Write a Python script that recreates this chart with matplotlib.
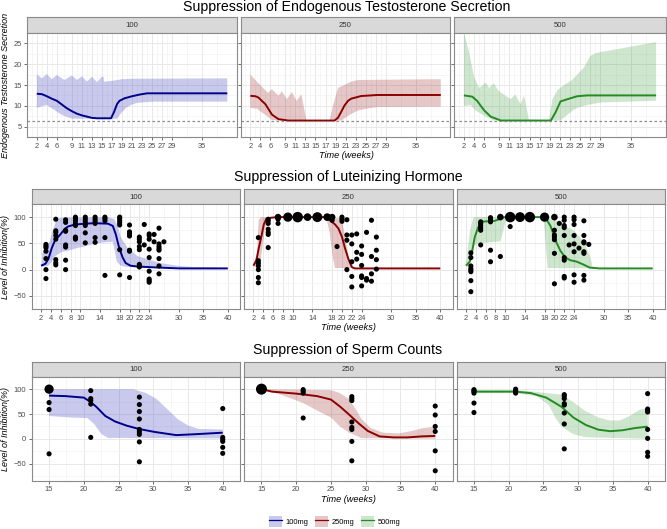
import numpy as np
import matplotlib.pyplot as plt
from matplotlib.lines import Line2D
from matplotlib.patches import Patch

plt.rcParams['font.family'] = ['Liberation Sans', 'DejaVu Sans']

# ---------------- data ----------------
doses = ["100", "250", "500"]
dose_labels = ["100mg", "250mg", "500mg"]

# Endogenous testosterone: median line and band edges (weeks, value)
t100_wk = [2, 3, 4, 5, 6, 7, 8, 9, 10, 11, 12, 13, 14, 16.8, 17.4, 18.0, 18.5, 19.5, 21, 22.5, 24, 40]
t100_med = [12.9, 12.8, 12.3, 11.7, 11.2, 10.3, 9.4, 8.7, 8.1, 7.7, 7.4, 7.1, 7.0, 7.0, 8.5, 10.4, 11.2, 11.8, 12.3, 12.7, 13.0, 13.0]
t100_up_wk = [2, 3, 4, 5, 6, 7.5, 9, 10, 11, 12, 13, 14, 15, 15.3, 15.4, 17, 19, 21, 40]
t100_up = [17.6, 16.6, 17.6, 16.4, 17.4, 16.2, 17.3, 16.2, 17.1, 15.8, 17.0, 15.7, 17.0, 17.0, 15.8, 16.0, 16.4, 16.5, 16.6]
t100_lo_wk = [2, 3, 4, 5, 6, 7, 8, 9, 18, 19, 20, 21, 22, 25, 40]
t100_lo = [9.5, 9.9, 10.2, 9.4, 8.6, 7.8, 7.3, 6.9, 6.9, 8.5, 9.7, 10.3, 10.7, 11.0, 11.0]

t250_wk = [2, 3, 3.6, 5, 6.3, 7.6, 9.6, 18.8, 19.5, 20.2, 20.8, 21.5, 22.1, 24.1, 27.4, 40]
t250_med = [12.4, 12.3, 12.0, 10.4, 7.9, 6.8, 6.45, 6.45, 7.15, 8.7, 10.1, 11.2, 11.7, 12.35, 12.6, 12.6]
t250_up_wk = [2, 5.5, 6.3, 7.6, 8.3, 9.3, 10.3, 11.2, 12.2, 13.2, 17.8, 18.5, 19.5, 20.8, 22.1, 23.5, 40]
t250_up = [17.5, 13.1, 14.0, 12.4, 13.5, 11.6, 13.3, 11.2, 12.7, 6.45, 6.45, 10.1, 14.3, 15.0, 15.8, 16.2, 16.4]
t250_lo_wk = [2, 3.3, 5, 6.3, 7.6, 20.2, 21.5, 23.5, 26.1, 27.4, 40]
t250_lo = [9.5, 9.3, 7.8, 6.6, 6.45, 6.45, 7.6, 8.9, 9.5, 9.7, 9.8]

t500_wk = [2, 3.65, 4.6, 6, 7.3, 9.3, 19.2, 20.15, 21.1, 22.5, 24.4, 26.4, 40]
t500_med = [12.5, 12.2, 11.2, 8.9, 7.4, 6.46, 6.46, 8.5, 11.05, 11.6, 12.3, 12.5, 12.5]
t500_up_wk = [2, 3, 4, 5, 5.6, 6.3, 7, 7.9, 8.9, 9.9, 11.2, 12.2, 13.2, 13.9, 14.9, 18.8, 19.5, 20.5, 21.8, 23.4, 25.8, 27, 28.1, 40]
t500_up = [27.5, 23.1, 17.0, 14.3, 14.8, 15.6, 14.3, 15.4, 13.5, 12.7, 11.6, 12.7, 10.4, 12.4, 6.46, 6.46, 11.5, 13.8, 15.0, 16.2, 19.3, 22.0, 22.7, 25.3]
t500_lo_wk = [2, 3.3, 4.3, 6, 7.9, 21.1, 23.1, 24.4, 26.4, 29.1, 40]
t500_lo = [9.9, 10.2, 8.9, 7.6, 6.46, 6.46, 8.5, 9.5, 10.2, 10.8, 11.2]

t_threshold = 6.4
t_xticks = [2, 4, 6, 9, 11, 13, 15, 17, 19, 21, 23, 25, 27, 29, 35]
t_yticks = [5, 10, 15, 20, 25]

# Luteinizing hormone inhibition (%)
lh100_wk = [2, 2.9, 3.5, 4.2, 4.9, 5.5, 6.2, 6.9, 7.5, 8.9, 10.9, 12.9, 15.6, 16.6, 17.2, 17.9, 18.6, 19.2, 20.2, 21.6, 26.2, 30.2, 40]
lh100_med = [7.5, 11.2, 20.6, 41.5, 57.1, 62.4, 70.2, 78, 82.2, 85.9, 87.5, 88.5, 87.5, 83.3, 67.6, 41.5, 23.2, 12.7, 7.5, 5.9, 3.8, 2.3, 2.3]
lh100_up_wk = [2.2, 3.5, 4.5, 5.2, 6.2, 15.6, 16.9, 17.6, 18.2, 19.6, 21.6, 26.2, 29.6, 32.9, 40]
lh100_up = [31, 46.7, 78, 96.3, 99, 100, 96.3, 83.3, 62.4, 41.5, 25.8, 12.7, 7.5, 4.9, 3.3]
lh100_lo_wk = [2.2, 3.5, 4.2, 4.9, 6.2, 7.5, 9.5, 10.9, 12.9, 14.9, 16.6, 17.0, 17.4, 18.2, 19.6, 40]
lh100_lo = [4.9, 7.5, 15.3, 25.8, 33.6, 36, 41.5, 44, 49.3, 51.9, 53, 36, 15.3, 7.5, 4.9, 2.3]
lh100_obs = {
    3: [48, 45, 42, 35, 21, 0, -17],
    5: [96, 74, 71, 65, 58, 19, 13, 9],
    7: [95, 90, 75, 73, 47, 43, 18, 0],
    9: [100, 97, 93, 88, 84, 62, 60, 58],
    11: [100, 96, 92, 88, 84, 70, 51],
    13: [100, 96, 92, 88, 61, 52],
    15: [100, 97, 93, 61, -11],
    18: [100, 97, 93, 89, 85, 38, -10],
    20: [85, 72, 68, 64, 37, 35, -15],
    22: [62, 58, 53, 44, 38, 10, 7, 5],
    23: [86, 47],
    24: [68, 65, 58, 39, 23, -3, -18, -21, -24],
    25: [67, 53],
    26: [79, 49, 44, 40, 37, 21, 7, -8],
    27: [53],
}

lh250_wk = [2, 2.6, 3.1, 3.6, 4.1, 4.6, 5.6, 7.3, 16.6, 17.6, 18.6, 19.3, 20, 20.6, 21.3, 22, 22.6, 40]
lh250_med = [7.5, 18, 41.5, 62.4, 85.9, 96.3, 99, 100, 100, 93.7, 86, 78, 62.4, 41.5, 20.6, 4.9, 2.3, 2.3]
lh250_up_wk = [2, 2.7, 3.1, 3.5, 19.6, 20.2, 20.8, 21.3, 21.7, 22.2, 40]
lh250_up = [7.5, 30, 95, 100, 98, 85, 55, 25, 5, 2.3, 2.3]
lh250_lo_wk = [2, 2.8, 3.5, 4.3, 5, 6, 16.8, 17.5, 18.2, 18.6, 40]
lh250_lo = [7.5, 3, 20, 75, 95, 100, 100, 70, 20, 3, 2.3]
lh250_obs = {
    3: [61, 17, 12, 7, 0, -15, -25],
    5: [96, 93, 88, 77, 71, 67, 42],
    7: [100, 100, 96, 88],
    9: [100, 100, 100, 100, 100],
    11: [100, 100, 100, 100, 100, 100, 100],
    13: [100, 100, 100],
    15: [100, 100, 100, 100, 100, 100],
    17: [100, 100, 100],
    18: [100, 100, 94],
    19: [44],
    20: [100, 96, 92],
    21: [95, 66, 56, 0],
    22: [66, 49, 15, -13, -33],
    23: [68, 33, 20],
    24: [45, 29, 8, -12, -15, -31],
    25: [71, -17, -20],
    26: [94, 25, -8, -22],
    27: [62, 37, 19, 1],
}

lh500_wk = [2, 2.8, 3.3, 3.8, 4.5, 5.1, 6.5, 7.8, 8.8, 9.8, 17.8, 18.5, 19.2, 19.8, 20.4, 21.2, 22.2, 23.2, 24.5, 25.8, 27.2, 29.2, 40]
lh500_med = [7.5, 15.3, 36.2, 62.4, 80.7, 91.1, 92.2, 92.7, 96.3, 100, 100, 93.7, 83.3, 67.6, 51.9, 36.2, 23.2, 18, 15.3, 10.1, 3.8, 2.3, 2.3]
lh500_up_wk = [2, 2.8, 3.5, 4, 18, 20, 21.4, 24.1, 26.1, 27.4, 27.8, 29.2, 40]
lh500_up = [7.5, 72.8, 99, 100, 100, 95, 88, 73, 52, 22, 4, 2.3, 2.3]
lh500_lo_wk = [2, 2.5, 3, 3.5, 4.5, 9, 9.5, 10, 10.5, 17.8, 18.2, 18.6, 40]
lh500_lo = [7.5, 5, 20, 45, 50, 54, 70, 90, 100, 100, 50, 3, 2.3]
lh500_obs = {
    3: [32, 23, 7, 2, -1, -4, -21, -42],
    5: [91, 88, 84, 79, 75, 47],
    7: [99, 95, 91, 37, 15],
    9: [100, 100, 25],
    11: [100, 100, 100, 100, 100, 100, 100, 82],
    13: [100, 100, 100, 100, 100, 100],
    15: [100, 100, 100, 100, 100, 100, 100],
    18: [100, 100, 100, 100, 100],
    20: [100, 100, 75, 66, 62, 57, 31, -27],
    21: [88],
    22: [100, 94, 84, 80, 65, 23, 18, -13, -16],
    23: [47],
    24: [100, 95, 86, 65, 49, 34, -10, -24],
    25: [41],
    26: [93, 65, 53, 51, 34, 31, -11, -20],
    27: [48],
}

lh_xticks = [2, 4, 6, 8, 10, 14, 18, 20, 22, 24, 30, 35, 40]
inh_yticks = [-50, 0, 50, 100]

# Sperm count inhibition (%)
sp100_wk = [15, 17.35, 20, 20.9, 21.8, 23.1, 24.5, 26.2, 28, 30.2, 33.3, 36, 40]
sp100_med = [87, 86, 83, 75, 64.5, 46, 35, 26.5, 19.8, 14, 7.6, 9.4, 12.5]
sp100_up_wk = [15, 27.1, 29, 30.5, 32, 33.5, 35, 36.5, 40]
sp100_up = [100, 100, 92, 80, 60, 40, 27, 20, 19]
sp100_lo_wk = [15, 18, 20.5, 21.5, 22, 22.5, 23.5, 40]
sp100_lo = [46, 43, 42, 30, 20, 10, 2, 1]
sp100_obs = {
    15: [100, 100, 100, 100, 100, 73, 59, -30],
    21: [97, 81, 77, 70, 3],
    28: [84, 69, 55, 40, 19, 14, 9, -6, -46],
    40: [61, 3, -1, -5, -17, -29],
}

sp250_wk = [15, 16.5, 20, 23, 25, 26.3, 27.6, 29, 30.3, 32, 34, 36, 38, 40]
sp250_med = [100, 95, 91, 86, 79, 65, 49, 31, 16, 5, 3, 3, 5, 6]
sp250_up_wk = [15, 25, 26.3, 27.6, 28.5, 29.4, 30.7, 32.5, 34.7, 36.5, 38.2, 40]
sp250_up = [100, 98, 92, 80, 61, 40, 22, 12.5, 11, 15.5, 21.6, 24.7]
sp250_lo_wk = [15, 18, 21, 23, 25, 26.3, 27.6, 29.4, 40]
sp250_lo = [100, 88, 72, 57, 43, 25, 12.5, 1.5, 0.2]
sp250_obs = {
    15: [100, 100, 100, 100, 100, 100, 100, 100],
    21: [99, 96, 92, 42],
    28: [85, 81, 77, 34, 23, 19, -5, -44],
    40: [66, 48, 25, 15, -24, -64],
}

sp500_wk = [15, 21, 23.2, 25.4, 27.6, 29.3, 31.1, 32.9, 34.6, 36.4, 38.1, 40]
sp500_med = [95, 95, 92, 83, 64.5, 43, 28, 18.6, 15.5, 17.4, 21.6, 24.7]
sp500_up_wk = [15, 21, 23, 25.4, 27.6, 29.3, 31.1, 32.9, 34.6, 36, 37.4, 38.8, 40]
sp500_up = [98, 98, 96, 92, 89, 73.7, 55.3, 43, 37, 37, 46, 58, 62.7]
sp500_lo_wk = [15, 21, 24, 25.8, 26.7, 27.6, 29.3, 31.1, 40]
sp500_lo = [92, 92, 86, 67.6, 43, 24.7, 9.4, 3.3, 0.2]
sp500_obs = {
    15: [99, 97, 95, 92, 72, 53],
    21: [100, 97, 95, 92],
    28: [89, 86, 81, 71, 68, 52, 30, -20],
    40: [91, 60, 57, 54, 19, 1, -27, -35],
}

sp_xticks = [15, 20, 25, 30, 35, 40]

# ---------------- style ----------------
line_colors = ["#00008B", "#8B0000", "#228B22"]
fill_colors = ["#4040C0", "#8B0000", "#228B22"]
fill_alpha = [0.28, 0.22, 0.22]
border = "#8A8A8A"
tick_col = "#4D4D4D"

W, H = 667, 529
fig = plt.figure(figsize=(W / 100, H / 100), dpi=100)


def minor_between(ticks, lo, hi):
    b = list(ticks)
    if lo < b[0]:
        b = [b[0] - (b[1] - b[0])] + b
    if hi > b[-1]:
        b = b + [b[-1] + (b[-1] - b[-2])]
    return [(a + c) / 2 for a, c in zip(b[:-1], b[1:])]


def make_panel(left, top, right, bottom, strip_h, label, xlim, ylim, xticks, yticks, show_y):
    st = fig.add_axes([left / W, 1 - top / H, (right - left) / W, strip_h / H])
    st.set_facecolor("#D9D9D9")
    st.set_xticks([])
    st.set_yticks([])
    for s in st.spines.values():
        s.set_color(border)
        s.set_linewidth(0.8)
    st.text(0.5, 0.45, label, ha="center", va="center", fontsize=5.6,
            color="#333333", transform=st.transAxes)

    ax = fig.add_axes([left / W, 1 - bottom / H, (right - left) / W, (bottom - top) / H])
    ax.set_xlim(*xlim)
    ax.set_ylim(*ylim)
    ax.set_xticks(xticks)
    ax.set_xticks(minor_between(xticks, *xlim), minor=True)
    ax.set_yticks(yticks)
    ax.set_yticks(minor_between(yticks, *ylim), minor=True)
    ax.grid(which="major", color="#E8E8E8", lw=0.7)
    ax.grid(which="minor", color="#F1F1F1", lw=0.45)
    ax.set_axisbelow(True)
    ax.tick_params(which="minor", length=0)
    ax.tick_params(which="major", length=2.5, width=0.6, color="#555555",
                   labelsize=5.4, labelcolor=tick_col, pad=1.5)
    if not show_y:
        ax.tick_params(axis="y", labelleft=False)
    for s in ax.spines.values():
        s.set_color(border)
        s.set_linewidth(0.8)
    return ax


def draw_band(ax, i, wk, med, up_wk, up, lo_wk, lo):
    ax.fill(list(up_wk) + list(lo_wk)[::-1], list(up) + list(lo)[::-1],
            color=fill_colors[i], alpha=fill_alpha[i], lw=0)
    ax.plot(wk, med, color=line_colors[i], lw=1.4, solid_capstyle="butt")


def draw_points(ax, obs):
    # repeated observations are drawn once, with size growing with the count
    xs, ys, ss = [], [], []
    for wk, vals in obs.items():
        v, c = np.unique(vals, return_counts=True)
        for vv, cc in zip(v, c):
            d = 5.1 * cc ** 0.37
            xs.append(wk)
            ys.append(vv)
            ss.append((d * 0.72) ** 2)
    ax.scatter(xs, ys, s=ss, color="black", edgecolors="none", zorder=5, clip_on=False)


# ---------------- row 1: testosterone ----------------
t_series = [
    (t100_wk, t100_med, t100_up_wk, t100_up, t100_lo_wk, t100_lo),
    (t250_wk, t250_med, t250_up_wk, t250_up, t250_lo_wk, t250_lo),
    (t500_wk, t500_med, t500_up_wk, t500_up, t500_lo_wk, t500_lo),
]
row1_x = [(27.3, 236.8), (240.8, 450.3), (454.3, 665.7)]
for i, (l, r) in enumerate(row1_x):
    ax = make_panel(l, 33, r, 137, 16, doses[i], (0.1, 41.9), (3.1, 27.1),
                    t_xticks, t_yticks, i == 0)
    draw_band(ax, i, *t_series[i])
    ax.axhline(t_threshold, color="#8C8C8C", lw=0.9, ls=(0, (2, 2)))

fig.text(347 / W, 1 - 6.5 / H, "Suppression of Endogenous Testosterone Secretion",
         ha="center", va="center", fontsize=10.2)
fig.text(5.5 / W, 1 - 85 / H, "Endogenous Testosterone Secretion", rotation=90,
         ha="center", va="center", fontsize=6.5, style="italic")
fig.text(346 / W, 1 - 156 / H, "Time (weeks)", ha="center", va="center",
         fontsize=6.6, style="italic")

# ---------------- row 2: LH ----------------
lh_series = [
    (lh100_wk, lh100_med, lh100_up_wk, lh100_up, lh100_lo_wk, lh100_lo),
    (lh250_wk, lh250_med, lh250_up_wk, lh250_up, lh250_lo_wk, lh250_lo),
    (lh500_wk, lh500_med, lh500_up_wk, lh500_up, lh500_lo_wk, lh500_lo),
]
lh_obs = [lh100_obs, lh250_obs, lh500_obs]
row23_x = [(31.7, 240.1), (244.1, 452.6), (456.6, 665.0)]
for i, (l, r) in enumerate(row23_x):
    ax = make_panel(l, 204, r, 309, 15, doses[i], (0.1, 41.9), (-56.3, 108.3),
                    lh_xticks, inh_yticks, i == 0)
    draw_band(ax, i, *lh_series[i])
    draw_points(ax, lh_obs[i])

fig.text(348 / W, 1 - 177.5 / H, "Suppression of Luteinizing Hormone",
         ha="center", va="center", fontsize=10.2)
fig.text(5.5 / W, 1 - 256.5 / H, "Level of Inhibition(%)", rotation=90,
         ha="center", va="center", fontsize=6.5, style="italic")
fig.text(348 / W, 1 - 327 / H, "Time (weeks)", ha="center", va="center",
         fontsize=6.6, style="italic")

# ---------------- row 3: sperm ----------------
sp_series = [
    (sp100_wk, sp100_med, sp100_up_wk, sp100_up, sp100_lo_wk, sp100_lo),
    (sp250_wk, sp250_med, sp250_up_wk, sp250_up, sp250_lo_wk, sp250_lo),
    (sp500_wk, sp500_med, sp500_up_wk, sp500_up, sp500_lo_wk, sp500_lo),
]
sp_obs = [sp100_obs, sp250_obs, sp500_obs]
for i, (l, r) in enumerate(row23_x):
    ax = make_panel(l, 376.7, r, 480.7, 15, doses[i], (13.75, 41.25), (-84, 107),
                    sp_xticks, inh_yticks, i == 0)
    draw_band(ax, i, *sp_series[i])
    draw_points(ax, sp_obs[i])

fig.text(348 / W, 1 - 350 / H, "Suppression of Sperm Counts",
         ha="center", va="center", fontsize=10.2)
fig.text(5.5 / W, 1 - 428.7 / H, "Level of Inhibition(%)", rotation=90,
         ha="center", va="center", fontsize=6.5, style="italic")
fig.text(348 / W, 1 - 499 / H, "Time (weeks)", ha="center", va="center",
         fontsize=6.6, style="italic")

# ---------------- legend ----------------
handles = [(Patch(facecolor=fill_colors[i], alpha=fill_alpha[i], lw=0),
            Line2D([], [], color=line_colors[i], lw=0.9)) for i in range(3)]
fig.legend(handles, dose_labels, loc="center", bbox_to_anchor=(335 / W, 1 - 521.5 / H),
           ncol=3, frameon=False, fontsize=5.4, handlelength=1.7, handleheight=1.7,
           handletextpad=0.5, columnspacing=0.9, borderpad=0)

fig.savefig("out.png", dpi=100)
